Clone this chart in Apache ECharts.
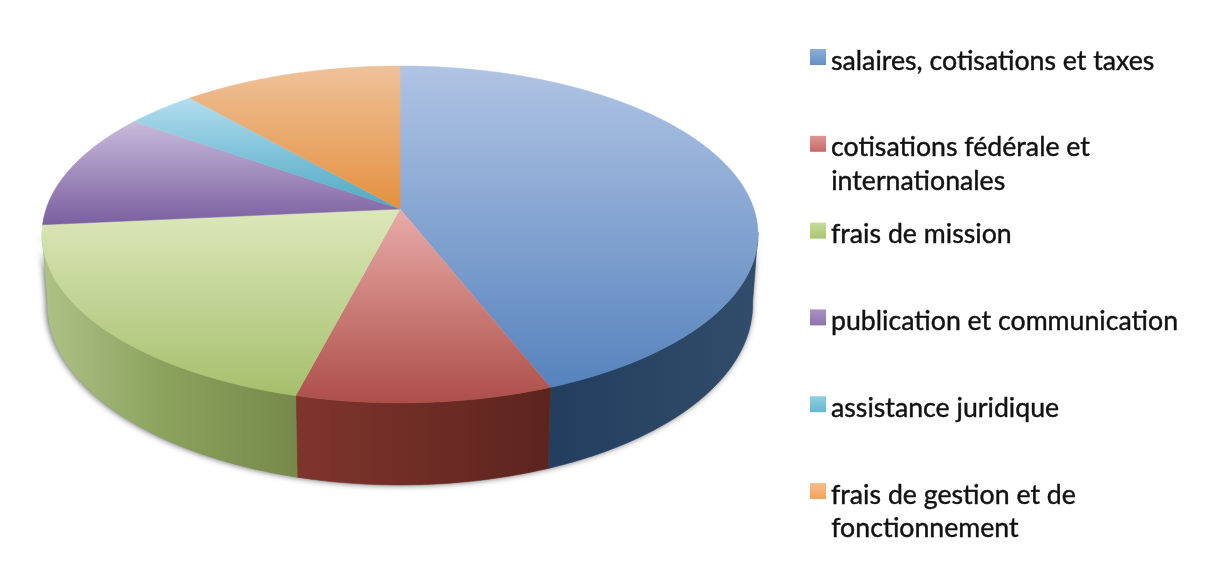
<!DOCTYPE html>
<html><head><meta charset="utf-8">
<style>html,body{margin:0;padding:0;background:#fff}#c{width:1208px;height:584px}</style>
<script src="https://cdn.jsdelivr.net/npm/echarts@6/dist/echarts.min.js"></script>
</head><body><div id="c"></div>
<script>
const categories = ['salaires, cotisations et taxes','cotisations fédérale et internationales','frais de mission','publication et communication','assistance juridique','frais de gestion et de fonctionnement'];
const values = [44.05, 10.0, 19.45, 11.3, 3.7, 11.5];
const legendFirstLines = ['salaires, cotisations et taxes','cotisations fédérale et','frais de mission','publication et communication','assistance juridique','frais de gestion et de'];
const legendSecondLines = ['','internationales','','','','fonctionnement'];
const topColors = [['#b0c4e4','#5683bd'],['#e9aca8','#ad4e49'],['#dce8ba','#a6bf6c'],['#c8bbdb','#7a5f9f'],['#b2deef','#4ea7c3'],['#efc29a','#e4903e']];
const sideColors = [['#223e5e','#324c6b'],['#7f352d','#5c241d'],['#aec286','#8aa15c','#76894a'],['#5c4a78','#5c4a78'],['#2c7d92','#2c7d92'],['#a86020','#a86020']];
const legendColors = [['#8fadd6','#4f81bd'],['#dc9896','#c0504d'],['#c8db9c','#9bbb59'],['#a992c4','#8064a2'],['#93d0e2','#4bacc6'],['#f6bd8c','#f79646']];

const K = -0.151, CX = 400, C = 353.9, A = 209, B = 133.1;
const SIDE_FROM = 98, SIDE_TO = 262;
const rim = (deg, depth) => {
  const t = deg * Math.PI / 180, X = Math.sin(t), Y = -Math.cos(t), w = 1 + K * Y;
  const d = depth ? 68 + 14 * Y : 0, s = depth ? 0.985 : 1;
  return [CX + s * C * X / w, (A + B * Y) / w + d];
};
const arc = (a, b, depth) => {
  const n = Math.max(2, Math.ceil(Math.abs(b - a) * 2)), pts = [];
  for (let i = 0; i <= n; i++) pts.push(rim(a + (b - a) * i / n, depth));
  return pts;
};
const grad = (x2, y2, c) => new echarts.graphic.LinearGradient(0, 0, x2, y2, c.map((color, k) => ({offset:k / (c.length - 1), color})));
const total = values.reduce((s, v) => s + v, 0);
const series = [{
  type:'custom', name:'ombre', coordinateSystem:'none', silent:true, z:1, data:[total],
  renderItem: () => ({ type:'polygon', shape:{points: arc(SIDE_FROM, SIDE_TO, false).concat(arc(SIDE_TO, SIDE_FROM, true))},
    style:{fill:'#888', shadowBlur:6, shadowColor:'rgba(0,0,0,0.65)', shadowOffsetX:-1, shadowOffsetY:0} })
}];
let cum = 0;
categories.forEach((name, i) => {
  const a = cum / total * 360; cum += values[i]; const b = cum / total * 360;
  series.push({
    type:'custom', name, coordinateSystem:'none', silent:true, z:2, data:[values[i]],
    renderItem: () => {
      const children = [];
      const sa = Math.max(a, SIDE_FROM), sb = Math.min(b, SIDE_TO);
      if (sb > sa) {
        const pts = arc(sa, sb, false).concat(arc(sb, sa, true));
        const f = grad(1, 0, sideColors[i]);
        children.push({type:'polygon', z2:1, shape:{points:pts}, style:{fill:f, stroke:f, lineWidth:0.5}});
      }
      const f = grad(0, 1, topColors[i]);
      children.push({type:'polygon', z2:2, shape:{points:[[CX, A]].concat(arc(a, b, false))}, style:{fill:f, stroke:f, lineWidth:0.5}});
      return {type:'group', children};
    }
  });
});
const ROW = 86.8, T0 = 46;
const legends = categories.map((name, i) => ({
  data:[{name, itemStyle:{color:grad(0, 1, legendColors[i])}}],
  selectedMode:false, orient:'horizontal', left:810, top:T0 + ROW * i, padding:0,
  itemWidth:16, itemHeight:24, icon:'path://M0 0H16V16H0Z M0 24L0 24',
  formatter: () => legendFirstLines[i],
  textStyle:{fontFamily:'Lato', fontSize:26.7, color:'#111', lineHeight:30, textBorderColor:'#111', textBorderWidth:0.4}
}));
const graphics = legendSecondLines.map((t, i) => t ? {
  type:'text', left:831, top:T0 + ROW * i + 35,
  style:{text:t, font:'26.7px Lato', fill:'#111', stroke:'#111', lineWidth:0.4}
} : null).filter(Boolean);
const chart = echarts.init(document.getElementById('c'), null, {renderer:'canvas'});
chart.setOption({backgroundColor:'#fff', animation:false, legend:legends, graphic:graphics, series});
</script></body></html>
